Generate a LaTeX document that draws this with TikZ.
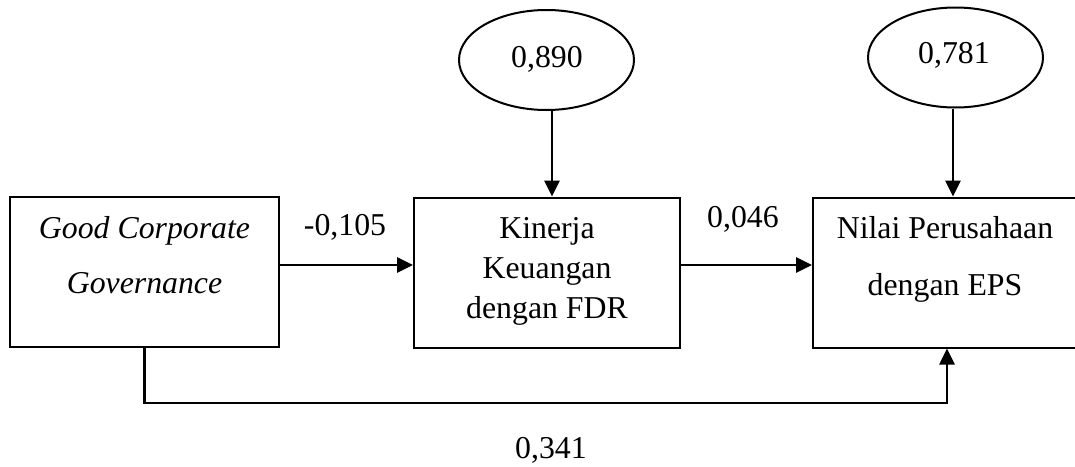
\documentclass[tikz,border=0pt]{standalone}
\usepackage{fontspec}
\setmainfont{Liberation Serif}
\usetikzlibrary{arrows.meta,shapes.geometric}
\begin{document}
\begin{tikzpicture}[x=0.5pt,y=-0.5pt,
  box/.style={draw,line width=1pt,minimum height=75pt,inner sep=0pt},
  oval/.style={draw,ellipse,line width=1pt,minimum width=87.5pt,minimum height=50pt,inner sep=0pt},
  txt/.style={anchor=base,inner sep=0pt,font=\fontsize{15.9pt}{19pt}\selectfont},
  arr/.style={line width=1.35pt,-{Triangle[length=8pt,width=7.5pt]}}]
\useasboundingbox (0,0) rectangle (1075,466);
% boxes
\node[box,minimum width=134.5pt] (b1) at (144.5,272) {};
\node[box,minimum width=133pt] (b2) at (547,272.5) {};
\node[box,minimum width=134pt] (b3) at (947,272.5) {};
% ovals
\node[oval] (e1) at (546.5,60) {};
\node[oval] (e2) at (955.5,57.5) {};
% texts
\node[txt] (t11) at (144.5,238) {\itshape Good Corporate};
\node[txt] (t12) at (144.5,293) {\itshape Governance};
\node[txt] (t21) at (547,238) {Kinerja};
\node[txt] (t22) at (547,278) {Keuangan};
\node[txt] (t23) at (547,318) {dengan FDR};
\node[txt] (t31) at (945,238) {Nilai Perusahaan};
\node[txt] (t32) at (945,295) {dengan EPS};
\node[txt] (o1) at (547,67) {0,890};
\node[txt] (o2) at (954,63) {0,781};
\node[txt] (l1) at (345,235) {-0,105};
\node[txt] (l2) at (743,227) {0,046};
\node[txt] (l3) at (551,458) {0,341};
% connectors
\coordinate (h1) at (0,265);
\coordinate (h2) at (0,403);
\coordinate (v1) at (552,0);
\coordinate (v2) at (953,0);
\draw[arr] (b1.east |- h1) -- (b2.west |- h1);
\draw[arr] (b2.east |- h1) -- (b3.west |- h1);
\draw[arr] (v1 |- e1.south) -- (v1 |- b2.north);
\draw[arr] (v2 |- e2.south) -- (v2 |- b3.north);
\draw[arr] (b1.south) -- (b1.south |- h2) -| (b3.south);
\end{tikzpicture}
\end{document}
